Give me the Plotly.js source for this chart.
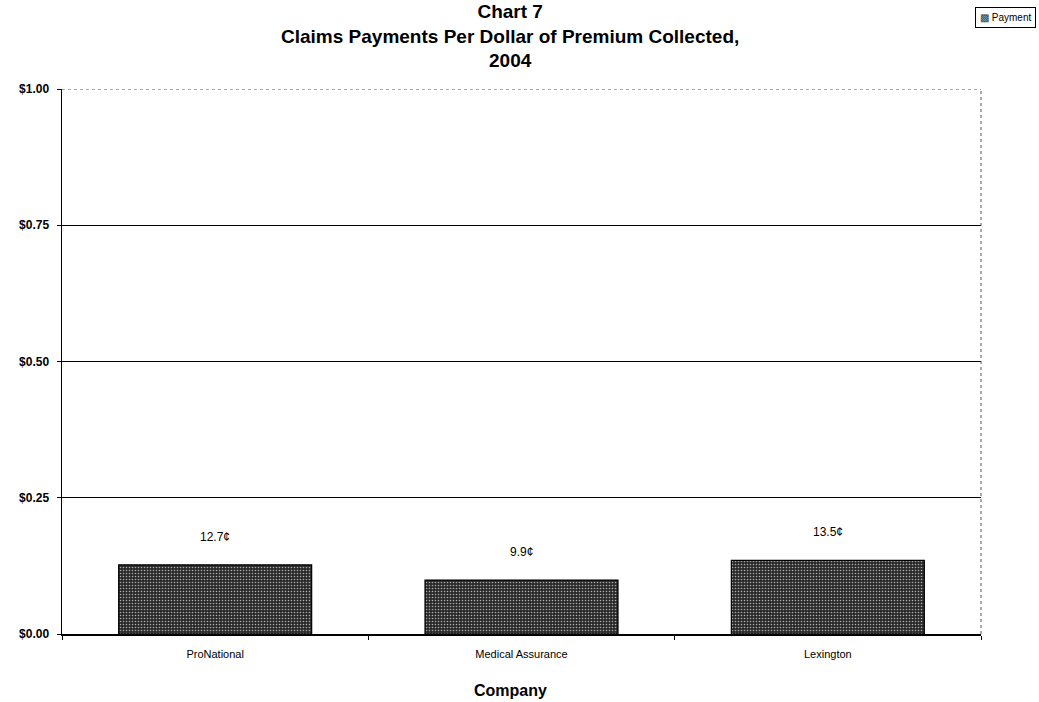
<!DOCTYPE html>
<html>
<head>
<meta charset="utf-8">
<script src="https://cdn.plot.ly/plotly-3.0.1.min.js"></script>
<style>body{margin:0;background:#fff}#chart{width:1039px;height:702px}</style>
</head>
<body>
<div id="chart"></div>
<script>
const companies = ["ProNational", "Medical Assurance", "Lexington"];
const payments = [0.127, 0.099, 0.135];
const paymentLabels = ["12.7¢", "9.9¢", "13.5¢"];
const yTickVals = [0, 0.25, 0.5, 0.75, 1.0];
const yTickText = ["$0.00", "$0.25", "$0.50", "$0.75", "$1.00"];
const seriesName = "Payment";

const FONT = "Arial, Liberation Sans, sans-serif";

const trace = {
  type: "bar",
  name: seriesName,
  x: companies,
  y: payments,
  width: 0.63,
  marker: {
    color: "#333",
    line: {color: "#000", width: 1.2},
    pattern: {shape: ".", fgcolor: "#a8a8a8", bgcolor: "#2b2b2b", size: 3, solidity: 0.22}
  },
  showlegend: false
};

const annotations = companies.map((c, i) => ({
  x: c, y: payments[i], xref: "x", yref: "y",
  text: paymentLabels[i], showarrow: false,
  yshift: 28, font: {family: FONT, size: 12, color: "#000"}
}));

// legend box (drawn as a bordered text item)
annotations.push({
  xref: "paper", yref: "paper",
  x: 1.0598, y: 1.132, xanchor: "right", yanchor: "middle",
  text: "<span style='color:#333'>▩</span> " + seriesName,
  showarrow: false, bgcolor: "#fff", bordercolor: "#000", borderwidth: 1, borderpad: 4,
  font: {family: FONT, size: 10, color: "#000"}
});

// x-axis title
annotations.push({
  xref: "paper", yref: "paper", x: 0.488, y: -0.103, xanchor: "center", yanchor: "middle",
  text: "<b>Company</b>", showarrow: false,
  font: {family: FONT, size: 16, color: "#000"}
});

const layout = {
  width: 1039, height: 702,
  margin: {l: 62, r: 58, t: 89, b: 68},
  paper_bgcolor: "#fff", plot_bgcolor: "#fff",
  font: {family: FONT, color: "#000"},
  title: {
    text: "<b>Chart 7<br>Claims Payments Per Dollar of Premium Collected,<br>2004</b>",
    x: 0.491, xanchor: "center", yref: "container", y: 0.976, yanchor: "top",
    pad: {t: 1},
    font: {size: 19, family: FONT, color: "#000"}
  },
  xaxis: {
    type: "category",
    showline: true, linecolor: "#000", linewidth: 1.5,
    ticks: "outside", ticklen: 4, tickcolor: "#000",
    tickson: "boundaries",
    ticklabelstandoff: 9,
    tickfont: {size: 11, family: FONT},
    showgrid: false, zeroline: false
  },
  yaxis: {
    range: [0, 1.0],
    tickvals: yTickVals, ticktext: yTickText,
    showline: true, linecolor: "#000", linewidth: 1.5,
    ticks: "outside", ticklen: 4, tickcolor: "#000",
    ticklabelstandoff: 5,
    tickfont: {size: 12, family: FONT, weight: "bold"},
    showgrid: true, gridcolor: "#000", gridwidth: 1,
    zeroline: false
  },
  bargap: 0.37,
  showlegend: false,
  annotations: annotations,
  shapes: [
    {type: "line", xref: "paper", yref: "y", x0: 0, x1: 1, y0: 1, y1: 1, line: {color: "#555", width: 1, dash: "dot"}},
    {type: "line", xref: "paper", yref: "paper", x0: 1, x1: 1, y0: 0, y1: 1, line: {color: "#555", width: 1, dash: "dot"}}
  ]
};

Plotly.newPlot("chart", [trace], layout, {displayModeBar: false, staticPlot: true});
</script>
</body>
</html>
